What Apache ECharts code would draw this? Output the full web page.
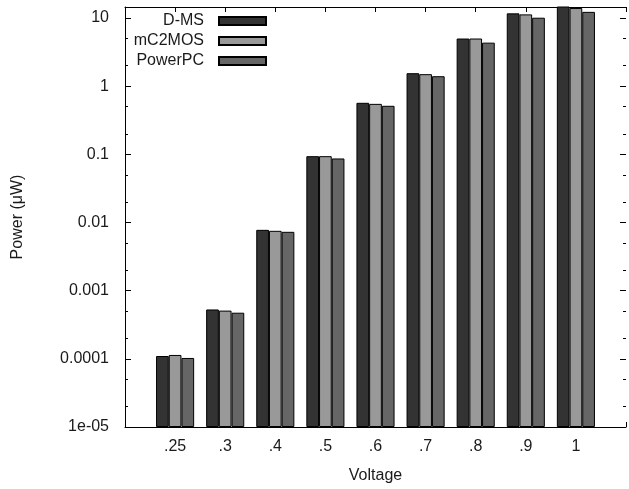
<!DOCTYPE html>
<html>
<head>
<meta charset="utf-8">
<script src="https://cdn.jsdelivr.net/npm/echarts@6/dist/echarts.min.js"></script>
<style>
  html, body { margin: 0; padding: 0; background: #fff; }
  #chart { width: 629px; height: 489px; }
</style>
</head>
<body>
<div id="chart"></div>
<script>
// voltages on the x axis
const voltages = ['.25', '.3', '.4', '.5', '.6', '.7', '.8', '.9', '1']
// power in µW
const dms = [1.1e-4, 5.3e-4, 7.8e-3, 0.094, 0.57, 1.55, 5.0, 11.7, 15.5]
const mc2mos = [1.14e-4, 5.1e-4, 7.55e-3, 0.094, 0.55, 1.5, 5.0, 11.3, 14.0]
const powerpc = [1.03e-4, 4.75e-4, 7.3e-3, 0.087, 0.515, 1.4, 4.35, 10.1, 12.3]
// y tick labels, one per decade from 1e-5 up
const yTickLabels = ['1e-05', '0.0001', '0.001', '0.01', '0.1', '1', '10']

const font = 'Liberation Sans'
const textColor = '#1a1a1a'

// pad with an empty slot on each side, gnuplot leaves one cluster of room
const cats = [''].concat(voltages, [''])
const pad = arr => [null].concat(arr, [null])

const majorVals = yTickLabels.map((_, i) => Math.pow(10, i - 5))
const minorVals = []
majorVals.forEach(v => { minorVals.push(v * 2, v * 5) })

const yMin = 1e-5
const yMax = 14.5

const yBase = {
  type: 'log',
  logBase: 10,
  min: yMin,
  max: yMax,
  startValue: yMin,
  splitLine: { show: false },
  axisLine: { show: false },
  axisLabel: { show: false },
  axisTick: { show: true, inside: true, length: 6, lineStyle: { color: '#000' } }
}

const yAxes = [
  {
    ...yBase,
    position: 'left',
    axisLine: { show: true, lineStyle: { color: '#000', width: 1 } },
    axisTick: { show: true, inside: true, length: 6, customValues: majorVals, lineStyle: { color: '#000' } },
    axisLabel: {
      show: true,
      customValues: majorVals,
      margin: 16,
      fontFamily: font,
      fontSize: 16,
      color: textColor,
      formatter: v => {
        const i = Math.round(Math.log10(v)) + 5
        return yTickLabels[i] || ''
      }
    },
    name: 'Power (μW)',
    nameLocation: 'middle',
    nameGap: 99,
    nameTextStyle: { fontFamily: font, fontSize: 16, color: textColor }
  },
  {
    ...yBase,
    position: 'left',
    axisTick: { show: true, inside: true, length: 3, customValues: minorVals, lineStyle: { color: '#000' } }
  },
  {
    ...yBase,
    position: 'right',
    axisTick: { show: true, inside: true, length: 6, customValues: majorVals, lineStyle: { color: '#000' } }
  },
  {
    ...yBase,
    position: 'right',
    axisTick: { show: true, inside: true, length: 3, customValues: minorVals, lineStyle: { color: '#000' } }
  }
]

const xBase = {
  type: 'category',
  data: cats,
  boundaryGap: false,
  axisLine: { show: true, lineStyle: { color: '#000', width: 1 } },
  axisTick: { show: true, inside: true, length: 5, lineStyle: { color: '#000' } },
  splitLine: { show: false }
}

const barCommon = {
  type: 'bar',
  barWidth: 12.7,
  barGap: '0%',
  clip: true,
  xAxisIndex: 0,
  yAxisIndex: 0
}

const chart = echarts.init(document.getElementById('chart'))
chart.setOption({
  animation: false,
  backgroundColor: '#fff',
  grid: { left: 125, right: -1, top: 7, bottom: 61, containLabel: false },
  legend: {
    orient: 'vertical',
    align: 'right',
    right: 362,
    top: 13,
    padding: 0,
    itemGap: 4,
    itemWidth: 47,
    itemHeight: 8,
    icon: 'rect',
    data: ['D-MS', 'mC2MOS', 'PowerPC'],
    textStyle: { fontFamily: font, fontSize: 16, lineHeight: 16, color: textColor, padding: [0, 10, 0, 0] }
  },
  xAxis: [
    {
      ...xBase,
      position: 'bottom',
      axisLabel: { fontFamily: font, fontSize: 16, color: textColor, margin: 12 },
      name: 'Voltage',
      nameLocation: 'middle',
      nameGap: 41,
      nameTextStyle: { fontFamily: font, fontSize: 16, color: textColor }
    },
    {
      ...xBase,
      position: 'top',
      axisLabel: { show: false }
    }
  ],
  yAxis: yAxes,
  series: [
    { ...barCommon, name: 'D-MS', data: pad(dms), itemStyle: { color: '#333333', borderColor: '#000', borderWidth: 1 } },
    { ...barCommon, name: 'mC2MOS', data: pad(mc2mos), itemStyle: { color: '#999999', borderColor: '#000', borderWidth: 1 } },
    { ...barCommon, name: 'PowerPC', data: pad(powerpc), itemStyle: { color: '#666666', borderColor: '#000', borderWidth: 1 } }
  ]
})
</script>
</body>
</html>
